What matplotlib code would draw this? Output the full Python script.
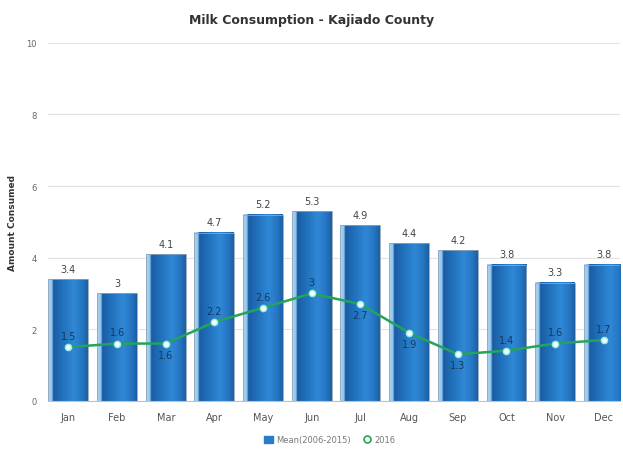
import matplotlib.pyplot as plt
from matplotlib.colors import LinearSegmentedColormap
from matplotlib.patches import Patch
from matplotlib.lines import Line2D
import numpy as np

months = ['Jan', 'Feb', 'Mar', 'Apr', 'May', 'Jun', 'Jul', 'Aug', 'Sep', 'Oct', 'Nov', 'Dec']
mean_values = [3.4, 3, 4.1, 4.7, 5.2, 5.3, 4.9, 4.4, 4.2, 3.8, 3.3, 3.8]
values_2016 = [1.5, 1.6, 1.6, 2.2, 2.6, 3, 2.7, 1.9, 1.3, 1.4, 1.6, 1.7]
line_label_below = [False, False, True, False, False, False, True, True, True, False, False, False]
yticks = [0, 2, 4, 6, 8, 10]

# horizontal gradient for the "cylinder" look of the bars
bar_cmap = LinearSegmentedColormap.from_list(
    'barblue', [(0.0, '#b4d8f4'), (0.10, '#8cc2ec'), (0.13, '#1a5ca3'), (0.35, '#2170bb'),
                (0.65, '#2f88d6'), (0.85, '#2677c3'), (1.0, '#1b5fa5')])
gradient = np.linspace(0, 1, 128).reshape(1, -1)

fig = plt.figure(figsize=(6.23, 4.52), dpi=100)
ax = fig.add_axes([0.077, 0.111, 0.918, 0.792])

x = np.arange(len(months))
width = 0.82
for xi, v in zip(x, mean_values):
    ax.imshow(gradient, cmap=bar_cmap, aspect='auto', interpolation='bilinear',
              extent=[xi - width / 2, xi + width / 2, 0, v], zorder=2)
    ax.bar(xi, v, width=width, color='none', edgecolor='#8fa4b8', linewidth=0.6, zorder=3)
    ax.text(xi, v + 0.15, f'{v:g}', ha='center', va='bottom', fontsize=7, color='#444444', zorder=5)

ax.plot(x, values_2016, color='#24a35a', linewidth=1.8, zorder=4,
        marker='o', markersize=4.5, markerfacecolor='white', markeredgecolor='#8ff0e0',
        markeredgewidth=1)
for xi, v, below in zip(x, values_2016, line_label_below):
    if below:
        ax.text(xi, v - 0.17, f'{v:g}', ha='center', va='top', fontsize=7, color='#123a60', zorder=5)
    else:
        ax.text(xi, v + 0.17, f'{v:g}', ha='center', va='bottom', fontsize=7, color='#123a60', zorder=5)

ax.set_xlim(-0.42, 11.33)
ax.set_ylim(0, 10)
ax.set_yticks(yticks)
ax.set_yticklabels([str(t) for t in yticks], fontsize=6, color='#666666')
ax.set_xticks(x)
ax.set_xticklabels(months, fontsize=7, color='#555555')
ax.tick_params(axis='both', length=0, pad=8)
ax.yaxis.grid(True, color='#e3e3e3', linewidth=0.8, zorder=0)
for side in ['top', 'right', 'left']:
    ax.spines[side].set_visible(False)
ax.spines['bottom'].set_color('#b8c4d0')

ax.set_ylabel('Amount Consumed', fontsize=6.5, fontweight='bold', color='#333333', labelpad=7)
fig.text(0.5, 0.955, 'Milk Consumption - Kajiado County', ha='center', va='center',
         fontsize=9, fontweight='bold', color='#333333')

handles = [Patch(facecolor='#2a7cc8', edgecolor='#2a7cc8'),
           Line2D([], [], color='none', marker='o', markersize=5, markerfacecolor='white',
                  markeredgecolor='#24a35a', markeredgewidth=1.2)]
fig.legend(handles, ['Mean(2006-2015)', '2016'], loc='center', bbox_to_anchor=(0.53, 0.025),
           ncol=2, frameon=False, fontsize=6, labelcolor='#777777', handlelength=1.0,
           handleheight=0.9, columnspacing=1.5, handletextpad=0.4)

fig.savefig('out.png', dpi=100)
